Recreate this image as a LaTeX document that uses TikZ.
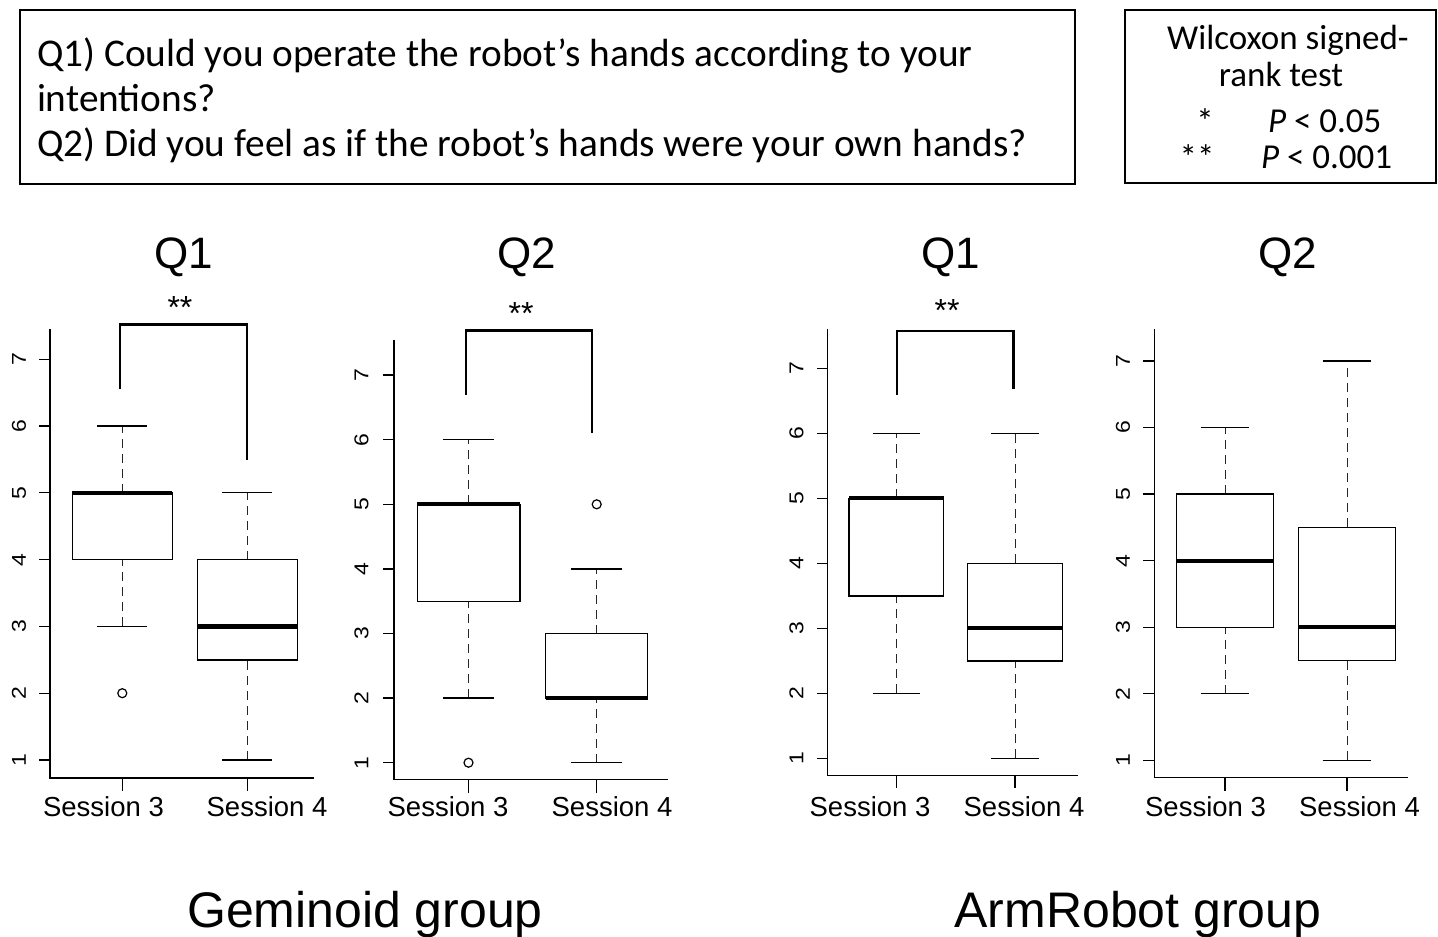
\documentclass[tikz,border=0pt]{standalone}
\usepackage{fontspec}
\usepackage{graphicx}
\setmainfont{Liberation Sans}
\newfontfamily\calibrifont{Carlito}

\tikzset{
  every node/.style={inner sep=0pt, outer sep=0pt},
  textframe/.style={line width=1.7pt},
  axisline/.style={line width=1.3pt},
  boxline/.style={line width=1.4pt, fill=white},
  medline/.style={line width=4.2pt},
  whisk/.style={line width=1pt, black!85, dash pattern=on 9pt off 6pt},
  staple/.style={line width=1.3pt},
  outlier/.style={line width=1.2pt},
  bracket/.style={line width=2.4pt},
  ticklab/.style={rotate=90, font=\fontsize{20}{20}\selectfont},
  sesslab/.style={font=\fontsize{27.5}{27.5}\selectfont},
  qtitle/.style={anchor=base, font=\fontsize{44}{44}\selectfont},
  grouplab/.style={anchor=base, font=\fontsize{50}{50}\selectfont},
  sigstar/.style={anchor=base, font=\fontsize{32}{32}\selectfont},
  qtext/.style={anchor=base west, font=\calibrifont\fontsize{39.3}{39.3}\selectfont},
  ltext/.style={anchor=base, font=\calibrifont\fontsize{35}{35}\selectfont},
}

% box-and-whisker: #1 centre, #2 half box width, #3 lower whisker,
% #4 lower hinge, #5 median, #6 upper hinge, #7 upper whisker
\newcommand{\bxp}[7]{%
  \draw[whisk] (#1,#3) -- (#1,#4) (#1,#6) -- (#1,#7);
  \draw[staple] ({#1-#2/2},#3) -- ({#1+#2/2},#3) ({#1-#2/2},#7) -- ({#1+#2/2},#7);
  \draw[boxline] ({#1-#2},#4) rectangle ({#1+#2},#6);
  \draw[medline] ({#1-#2},#5) -- ({#1+#2},#5);
}

% L-shaped axes with ticks 1..7: #1 name prefix, #2 axis x, #3 right end,
% #4 top value, #5 bottom value, #6 tick label x
\newcommand{\plotaxes}[6]{%
  \draw[axisline] (#2,#4) -- (#2,#5) -- (#3,#5);
  \foreach \v in {1,...,7}{
    \draw[axisline] (#2,\v) -- ++(-11pt,0);
    \node[ticklab] (#1-t\v) at (#6,\v) {\scalebox{1.15}[1]{\v}};
  }
}

\begin{document}
\begin{tikzpicture}[x=1pt, y=-1pt]
\useasboundingbox (0,0) rectangle (1438,937);

% question box
\draw[textframe] (20,10) rectangle (1075,184);
\node[qtext] (q1a) at (37,66.7) {Q1) Could you operate the robot’s hands according to your};
\node[qtext] (q1b) at (37,111.7) {intentions?};
\node[qtext] (q2)  at (37,156.7) {Q2) Did you feel as if the robot’s hands were your own hands?};

% test legend
\draw[textframe] (1125,10) rectangle (1436,183);
\node[ltext] (lg1) at (1288,49) {Wilcoxon signed-};
\node[ltext] (lg2) at (1281,86) {rank test};
\node[ltext] (lg3) at (1205,133.5) {*};
\node[ltext, anchor=base west] (lg4) at (1268,132.5) {\textit{P} < 0.05};
\node[ltext] (lg5) at (1197,169.5) {**};
\node[ltext, anchor=base west] (lg6) at (1261,168.3) {\textit{P} < 0.001};

% ---- Geminoid, Q1 ----
\begin{scope}[shift={(0,826.8)}, y=66.8pt]
  \plotaxes{ga}{50}{314}{7.45}{0.73}{19}
  \draw[axisline] (122.3,0.73) -- ++(0,-13pt) (247.3,0.73) -- ++(0,-13pt);
  \bxp{122.3}{50}{3}{4}{5}{5}{6}
  \bxp{247.3}{50}{1}{2.5}{3}{4}{5}
  \draw[outlier] (122.3,2) circle[radius=4.5pt];
  \draw[bracket] (120,6.55) |- (247,7.52) -- (247,5.49);
\end{scope}

% ---- Geminoid, Q2 ----
\begin{scope}[shift={(0,827.3)}, y=64.6pt]
  \plotaxes{gb}{394}{668}{7.54}{0.74}{361.5}
  \draw[axisline] (468.5,0.74) -- ++(0,-13pt) (596.7,0.74) -- ++(0,-13pt);
  \bxp{468.5}{51.3}{2}{3.5}{5}{5}{6}
  \bxp{596.7}{51}{1}{2}{2}{3}{4}
  \draw[outlier] (468.5,1) circle[radius=4.5pt];
  \draw[outlier] (596.7,5) circle[radius=4.5pt];
  \draw[bracket] (465.7,6.69) |- (591.7,7.69) -- (591.7,6.11);
\end{scope}

% ---- ArmRobot, Q1 ----
\begin{scope}[shift={(0,823.3)}, y=65pt]
  \plotaxes{ac}{827.7}{1078}{7.6}{0.74}{796.5}
  \draw[axisline] (896.3,0.74) -- ++(0,-13pt) (1015,0.74) -- ++(0,-13pt);
  \bxp{896.3}{47.3}{2}{3.5}{5}{5}{6}
  \bxp{1015}{47.3}{1}{2.5}{3}{4}{6}
  \draw[bracket] (896.7,6.59) |- (1013.3,7.57) -- (1013.3,6.68);
\end{scope}

% ---- ArmRobot, Q2 ----
\begin{scope}[shift={(0,826.85)}, y=66.55pt]
  \plotaxes{ad}{1154.3}{1407.7}{7.48}{0.74}{1123}
  \draw[axisline] (1225,0.74) -- ++(0,-13pt) (1347,0.74) -- ++(0,-13pt);
  \bxp{1225}{48.7}{2}{3}{4}{5}{6}
  \bxp{1347}{48.7}{1}{2.5}{3}{4.5}{7}
\end{scope}

% significance marks
\node[sigstar] (s1) at (180,318.5) {**};
\node[sigstar] (s2) at (521,324.5) {**};
\node[sigstar] (s3) at (947,321.5) {**};

% panel titles
\node[qtitle] (t1) at (184,268) {Q1};
\node[qtitle] (t2) at (527,268) {Q2};
\node[qtitle] (t3) at (951,268) {Q1};
\node[qtitle] (t4) at (1288,268) {Q2};

% category labels
\node[sesslab] (ga3) at (103.5,806.5) {Session 3};
\node[sesslab] (ga4) at (267,806.5) {Session 4};
\node[sesslab] (gb3) at (448,806.5) {Session 3};
\node[sesslab] (gb4) at (612,806.5) {Session 4};
\node[sesslab] (ac3) at (870,806.5) {Session 3};
\node[sesslab] (ac4) at (1024,806.5) {Session 4};
\node[sesslab] (ad3) at (1205.5,806.5) {Session 3};
\node[sesslab] (ad4) at (1359.5,806.5) {Session 4};

% group labels
\node[grouplab] (gem) at (365,927) {Geminoid group};
\node[grouplab] (arm) at (1138,927) {ArmRobot group};
\end{tikzpicture}
\end{document}
